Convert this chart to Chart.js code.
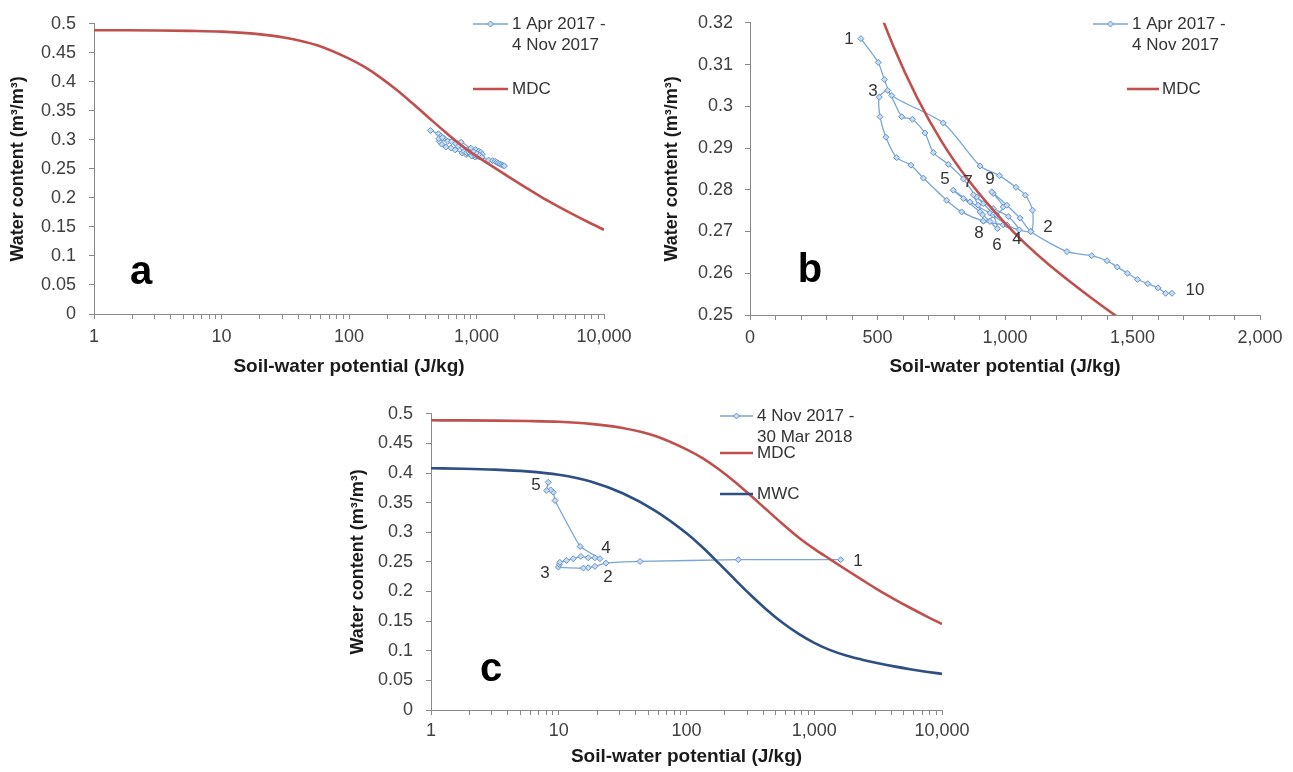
<!DOCTYPE html>
<html>
<head>
<meta charset="utf-8">
<script src="https://cdn.jsdelivr.net/npm/chart.js@4"></script>
<style>
  body { margin: 0; background: #fff; width: 1293px; height: 772px; position: relative; overflow: hidden; }
  canvas { position: absolute; }
</style>
</head>
<body>
<canvas id="chart-a" width="640" height="385" style="left:0;top:0"></canvas>
<canvas id="chart-b" width="633" height="385" style="left:660px;top:0"></canvas>
<canvas id="chart-c" width="640" height="382" style="left:340px;top:390px"></canvas>
<script>
// 1 Apr 2017 - 4 Nov 2017 (panels a and b)
const summerPotential = [435, 503, 527, 556, 758, 902, 978, 1043, 1080, 1108, 1101,
  993, 915, 830, 771, 680, 631, 575, 533, 510, 507,
  540, 595, 637, 686, 719, 778, 837, 889, 954, 1013, 1056,
  1007, 941, 863, 797,
  837, 902, 941, 970,
  954, 915, 876,
  895, 912, 915,
  967, 993, 954, 948,
  1007, 1059, 1101, 1243, 1340, 1400, 1440, 1480, 1520, 1560, 1600, 1630, 1655];
const summerWater = [0.3162, 0.3105, 0.3064, 0.3026, 0.2960, 0.2857, 0.2834, 0.2806, 0.2787, 0.2751, 0.2700,
  0.2716, 0.2725, 0.2747, 0.2775, 0.2828, 0.2859, 0.2877, 0.2926, 0.2975, 0.3022,
  0.3038, 0.2975, 0.2969, 0.2936, 0.2889, 0.2861, 0.2826, 0.2783, 0.2755, 0.2736, 0.2704,
  0.2716, 0.2744, 0.2771, 0.2799,
  0.2779, 0.2747, 0.2724, 0.2707,
  0.2740, 0.2767, 0.2788,
  0.2763, 0.2740, 0.2725,
  0.2740, 0.2759, 0.2791, 0.2795,
  0.2763, 0.2732, 0.2700, 0.2652, 0.2642, 0.2630, 0.2615, 0.2600, 0.2585, 0.2575, 0.2565, 0.2552, 0.2552];

// 4 Nov 2017 - 30 Mar 2018 (panel c)
const winterPotential = [1611, 254.5, 43.3, 23.4, 19.2, 17.0, 15.6, 9.93, 10.1, 10.2, 11.5, 13.0, 14.9, 17.0, 19.2, 21.0, 14.7, 9.35, 9.07, 8.65, 8.04, 8.28];
const winterWater = [0.2537, 0.2537, 0.2508, 0.2480, 0.2424, 0.2402, 0.2396, 0.2413, 0.2458, 0.2492, 0.2525, 0.2554, 0.2593, 0.2570, 0.2570, 0.2554, 0.2761, 0.3535, 0.3676, 0.3715, 0.3704, 0.3843];

// main drying (MDC) and main wetting (MWC) curves
const curvePotential = [1, 1.778, 3.162, 5.623, 10, 17.78, 31.62, 56.23, 100, 133.4, 177.8, 237.1, 316.2, 421.7,
  562.3, 749.9, 1000, 1333.5, 1778, 2371, 3162, 4217, 5623, 7499, 10000];
const mdcWater = [0.489, 0.4889, 0.4885, 0.4878, 0.4865, 0.483, 0.476, 0.463, 0.440, 0.4252, 0.4069, 0.3858, 0.3625, 0.3383,
  0.3144, 0.2917, 0.2720, 0.2543, 0.2368, 0.2196, 0.2028, 0.1873, 0.1726, 0.1585, 0.1451];
const mwcWater = [0.408, 0.4073, 0.4058, 0.4028, 0.397, 0.3858, 0.3658, 0.337, 0.2983, 0.2746, 0.2483, 0.2211, 0.1946, 0.1698,
  0.1477, 0.1288, 0.1133, 0.1011, 0.092, 0.085, 0.0789, 0.0736, 0.0689, 0.0647, 0.061];

// ticks
const logMajorTicks = [1, 10, 100, 1000, 10000];
const linearMajorTicks = [0, 500, 1000, 1500, 2000];

// point labels (data coordinates)
const labelsB = ['1', '3', '5', '7', '9', '8', '6', '4', '2', '10'];
const labelPotentialB = [388, 482, 765, 855, 941, 898, 969, 1047, 1169, 1745];
const labelWaterB = [0.316, 0.3037, 0.2825, 0.2818, 0.2825, 0.2696, 0.2667, 0.2681, 0.2710, 0.2559];
const labelsC = ['5', '4', '1', '3', '2'];
const labelPotentialC = [6.63, 23.4, 2200, 7.8, 24.3];
const labelWaterC = [0.379, 0.2727, 0.251, 0.231, 0.224];

const fontFamily = '"Liberation Sans", Arial, sans-serif';
const tickFont = { family: fontFamily, size: 18 };
const xTitleFont = { family: fontFamily, size: 19, weight: 'bold' };
const yTitleFont = { family: fontFamily, size: 18, weight: 'bold' };
const axisColor = '#8a8a8a';
const textColor = '#404040';
const obsColor = '#7aa5d8';
const mdcColor = '#c0504d';
const mwcColor = '#2e4f84';

const logTickValues = [];
logMajorTicks.slice(0, -1).forEach(d => { for (let k = 1; k < 10; k++) logTickValues.push(k * d); });
logTickValues.push(10000);

const toPoints = (xs, ys) => xs.map((x, i) => ({ x, y: ys[i] }));
const waterLabel = v => String(+v.toFixed(2));

function obsDataset(xs, ys, tension) {
    return {
        data: toPoints(xs, ys),
        borderColor: obsColor,
        borderWidth: 1.3,
        tension: tension,
        pointStyle: 'rectRot',
        pointRadius: 3,
        pointBackgroundColor: '#c9dbf0',
        pointBorderColor: '#5f93cc',
        pointBorderWidth: 1,
        order: 2
    };
}

function curveDataset(ys, color) {
    return {
        data: toPoints(curvePotential, ys),
        borderColor: color,
        borderWidth: 2.6,
        pointRadius: 0,
        cubicInterpolationMode: 'monotone',
        order: 1
    };
}

function xAxis(kind, height, tickPad, titlePad) {
    const axis = {
        min: kind === 'log' ? 1 : 0,
        max: kind === 'log' ? 10000 : 2000,
        afterFit: a => { a.height = height; },
        ticks: {
            autoSkip: false, maxRotation: 0, padding: tickPad, color: textColor, font: tickFont
        },
        grid: { drawOnChartArea: false, color: axisColor, tickLength: 5 },
        border: { color: axisColor },
        title: { display: true, text: 'Soil-water potential (J/kg)', font: xTitleFont, color: '#1a1a1a', padding: { top: 0, bottom: titlePad } }
    };
    if (kind === 'log') {
        axis.type = 'logarithmic';
        axis.afterBuildTicks = a => { a.ticks = logTickValues.map(v => ({ value: v })); };
        axis.ticks.callback = v => logMajorTicks.includes(v) ? v.toLocaleString('en-US') : '';
    } else {
        axis.type = 'linear';
        axis.ticks.stepSize = 100;
        axis.ticks.callback = v => linearMajorTicks.includes(v) ? v.toLocaleString('en-US') : '';
    }
    return axis;
}

function yAxis(min, max, step, width, tickPad, titlePad) {
    return {
        type: 'linear', min, max,
        afterFit: a => { a.width = width; },
        ticks: { stepSize: step, padding: tickPad, color: textColor, font: tickFont, callback: waterLabel },
        grid: { drawOnChartArea: false, color: axisColor, tickLength: 5 },
        border: { color: axisColor },
        title: { display: true, text: 'Water content (m³/m³)', font: yTitleFont, color: '#1a1a1a', padding: { top: titlePad, bottom: 0 } }
    };
}

// draws point numbers, the panel letter and the legend
function overlay(spec) {
    return {
        id: 'overlay',
        afterDatasetsDraw(chart) {
            const ctx = chart.ctx;
            const xs = chart.scales.x, ys = chart.scales.y;
            ctx.save();
            ctx.textBaseline = 'middle';
            ctx.textAlign = 'center';
            ctx.fillStyle = '#333';
            ctx.font = '17px ' + fontFamily;
            spec.notes.forEach(n => ctx.fillText(n.text, xs.getPixelForValue(n.x), ys.getPixelForValue(n.y)));

            ctx.fillStyle = '#000';
            ctx.font = 'bold 40px ' + fontFamily;
            ctx.fillText(spec.letter.text, xs.getPixelForValue(spec.letter.x), ys.getPixelForValue(spec.letter.y));

            ctx.textAlign = 'left';
            ctx.font = '17px ' + fontFamily;
            spec.legend.forEach(item => {
                ctx.strokeStyle = item.color;
                ctx.lineWidth = item.width;
                ctx.beginPath();
                ctx.moveTo(item.x0, item.y);
                ctx.lineTo(item.x1, item.y);
                ctx.stroke();
                if (item.marker) {
                    const cx = (item.x0 + item.x1) / 2, r = 3;
                    ctx.beginPath();
                    ctx.moveTo(cx, item.y - r); ctx.lineTo(cx + r, item.y);
                    ctx.lineTo(cx, item.y + r); ctx.lineTo(cx - r, item.y);
                    ctx.closePath();
                    ctx.fillStyle = '#c9dbf0';
                    ctx.fill();
                    ctx.lineWidth = 1;
                    ctx.strokeStyle = '#5f93cc';
                    ctx.stroke();
                }
                ctx.fillStyle = '#333';
                item.text.forEach((t, i) => ctx.fillText(t, item.tx, item.y + i * 21));
            });
            ctx.restore();
        }
    };
}

function makeChart(id, datasets, scales, padding, spec) {
    return new Chart(document.getElementById(id), {
        type: 'line',
        data: { datasets },
        options: {
            responsive: false,
            animation: false,
            layout: { padding, autoPadding: false },
            plugins: { legend: { display: false }, tooltip: { enabled: false } },
            scales
        },
        plugins: [overlay(spec)]
    });
}

// panel a
makeChart('chart-a',
    [obsDataset(summerPotential, summerWater, 0.25), curveDataset(mdcWater, mdcColor)],
    { x: xAxis('log', 71, 7, 7), y: yAxis(0, 0.5, 0.05, 94, 13, 7) },
    { top: 20, right: 36, left: 0, bottom: 0 },
    {
        notes: [],
        letter: { text: 'a', x: 2.34, y: 0.07 },
        legend: [
            { color: obsColor, width: 1.3, marker: true, x0: 473, x1: 508, y: 24, tx: 512, text: ['1 Apr 2017 -', '4 Nov 2017'] },
            { color: mdcColor, width: 2.6, x0: 473, x1: 508, y: 89, tx: 512, text: ['MDC'] }
        ]
    });

// panel b
makeChart('chart-b',
    [obsDataset(summerPotential, summerWater, 0.25), curveDataset(mdcWater, mdcColor)],
    { x: xAxis('linear', 70, 7, 7), y: yAxis(0.25, 0.32, 0.01, 90, 12, 1) },
    { top: 18, right: 33, left: 0, bottom: 0 },
    {
        notes: labelsB.map((t, i) => ({ text: t, x: labelPotentialB[i], y: labelWaterB[i] })),
        letter: { text: 'b', x: 235, y: 0.2606 },
        legend: [
            { color: obsColor, width: 1.3, marker: true, x0: 433, x1: 468, y: 24, tx: 472, text: ['1 Apr 2017 -', '4 Nov 2017'] },
            { color: mdcColor, width: 2.6, x0: 467, x1: 499, y: 89, tx: 502, text: ['MDC'] }
        ]
    });

// panel c
makeChart('chart-c',
    [obsDataset(winterPotential, winterWater, 0.1), curveDataset(mdcWater, mdcColor), curveDataset(mwcWater, mwcColor)],
    { x: xAxis('log', 62, 5, 4), y: yAxis(0, 0.5, 0.05, 91, 13, 7) },
    { top: 23, right: 38, left: 0, bottom: 0 },
    {
        notes: labelsC.map((t, i) => ({ text: t, x: labelPotentialC[i], y: labelWaterC[i] })),
        letter: { text: 'c', x: 2.95, y: 0.067 },
        legend: [
            { color: obsColor, width: 1.3, marker: true, x0: 380, x1: 413, y: 26, tx: 417, text: ['4 Nov 2017 -', '30 Mar 2018'] },
            { color: mdcColor, width: 2.6, x0: 380, x1: 413, y: 63, tx: 417, text: ['MDC'] },
            { color: mwcColor, width: 2.6, x0: 380, x1: 413, y: 104, tx: 417, text: ['MWC'] }
        ]
    });
</script>
</body>
</html>
